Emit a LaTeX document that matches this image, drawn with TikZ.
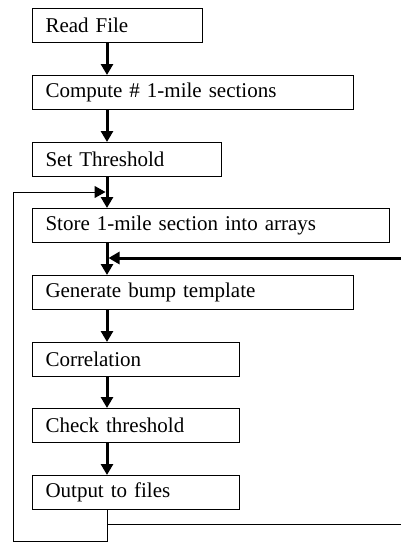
\documentclass[tikz,border=0pt]{standalone}
\usepackage{fontspec}
\setmainfont{Liberation Serif}
\usetikzlibrary{arrows.meta}
\begin{document}
\begin{tikzpicture}[x=1pt,y=-1pt,
  box/.style={draw, line width=1pt, anchor=north west, minimum height=34pt,
    inner xsep=13pt, inner ysep=0pt, align=left,
    font=\fontsize{21}{23}\selectfont},
  flow/.style={line width=3pt, -{Triangle[length=11pt,width=12pt]}},
  loopline/.style={line width=1pt},
  looparrow/.style={line width=1pt, -{Triangle[length=11pt,width=12pt]}},
  ]
\useasboundingbox (0,0) rectangle (400,542);
\node[box, text width=144pt] (read) at (32,8) {Read File};
\node[box, text width=295pt] (comp) at (32,75) {Compute \# 1-mile sections};
\node[box, text width=163pt] (thr) at (32,142) {Set Threshold};
\node[box, text width=331pt] (store) at (32,208) {Store 1-mile section into arrays};
\node[box, text width=295pt] (gen) at (32,275) {Generate bump template};
\node[box, text width=181pt] (corr) at (32,342) {Correlation};
\node[box, text width=181pt] (chk) at (32,408) {Check threshold};
\node[box, text width=181pt] (out) at (32,475) {Output to files};
\coordinate (sp) at (107,0);
\coordinate (bl) at (13,541);
\coordinate (tl) at (13,192);
\coordinate (rt) at (401,258);
\coordinate (rb) at (401,524);
\draw[flow] (sp |- read.south) -- (sp |- comp.north);
\draw[flow] (sp |- comp.south) -- (sp |- thr.north);
\draw[flow] (sp |- thr.south) -- (sp |- store.north);
\draw[flow] (sp |- store.south) -- (sp |- gen.north);
\draw[flow] (sp |- gen.south) -- (sp |- corr.north);
\draw[flow] (sp |- corr.south) -- (sp |- chk.north);
\draw[flow] (sp |- chk.south) -- (sp |- out.north);
\draw[looparrow] (sp |- out.south) -- (sp |- bl) -- (bl) -- (tl) -- ([xshift=-1.5pt]sp |- tl);
\draw[loopline] (sp |- rb) -- (rb);
\draw[flow] (rt) -- ([xshift=1.5pt]sp |- rt);
\end{tikzpicture}
\end{document}
